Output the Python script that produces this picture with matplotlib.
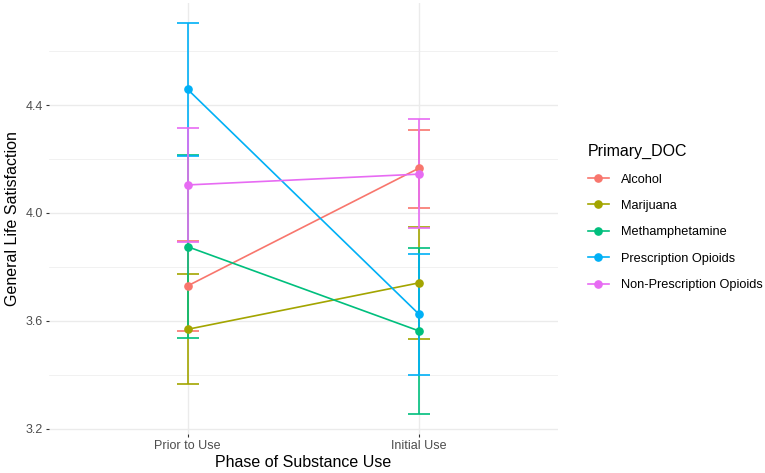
import matplotlib
matplotlib.use("Agg")
import matplotlib.pyplot as plt
from matplotlib.lines import Line2D
import numpy as np

plt.rcParams["font.family"] = ["Liberation Sans", "DejaVu Sans"]

# data
phases = ["Prior to Use", "Initial Use"]
groups = ["Alcohol", "Marijuana", "Methamphetamine",
          "Prescription Opioids", "Non-Prescription Opioids"]
colors = ["#F8766D", "#A3A500", "#00BF7D", "#00B0F6", "#E76BF3"]

means = [
    [3.730, 4.166],
    [3.569, 3.741],
    [3.875, 3.563],
    [4.458, 3.625],
    [4.104, 4.144],
]
lower = [
    [3.563, 4.020],
    [3.366, 3.533],
    [3.536, 3.254],
    [4.212, 3.400],
    [3.894, 3.946],
]
upper = [
    [3.897, 4.307],
    [3.773, 3.947],
    [4.214, 3.870],
    [4.705, 3.848],
    [4.316, 4.348],
]

y_ticks = [3.2, 3.6, 4.0, 4.4]
y_minor = [3.4, 3.8, 4.2, 4.6]

fig = plt.figure(figsize=(7.65, 4.73), dpi=100)
ax = fig.add_axes([0.064, 0.0825, 0.665, 0.911])

x = np.arange(1, len(phases) + 1)
for i, g in enumerate(groups):
    m = np.array(means[i])
    lo = m - np.array(lower[i])
    hi = np.array(upper[i]) - m
    ax.errorbar(x, m, yerr=[lo, hi], fmt="none", ecolor=colors[i],
                elinewidth=1.2, capsize=8, capthick=1.2, zorder=2 + i * 0.01)
    ax.plot(x, m, color=colors[i], lw=1.2, zorder=3 + i * 0.01)
    ax.plot(x, m, "o", color=colors[i], ms=5.2, zorder=4 + i * 0.01)

ax.set_xlim(0.4, 2.6)
ax.set_ylim(3.181, 4.778)
ax.set_xticks(x)
ax.set_xticklabels(phases)
ax.set_yticks(y_ticks)
ax.set_yticklabels([f"{v:.1f}" for v in y_ticks])
ax.set_yticks(y_minor, minor=True)

ax.grid(True, which="major", color="#EBEBEB", lw=1.0)
ax.grid(True, which="minor", axis="y", color="#EBEBEB", lw=0.5)
ax.set_axisbelow(True)
for s in ax.spines.values():
    s.set_visible(False)
ax.tick_params(axis="both", which="major", length=2.5, width=0.8,
               color="#333333", labelcolor="#4D4D4D", labelsize=9, pad=2)
ax.tick_params(axis="y", which="minor", length=0)

ax.set_xlabel("Phase of Substance Use", fontsize=11.5, labelpad=2)
ax.set_ylabel("General Life Satisfaction", fontsize=11.5, labelpad=4)

handles = [Line2D([0], [0], color=c, lw=1.2, marker="o", ms=5.2) for c in colors]
leg = fig.legend(handles, groups, title="Primary_DOC", loc="upper left",
                 bbox_to_anchor=(0.753, 0.72), frameon=False, fontsize=9.2,
                 title_fontsize=11.5, handlelength=1.7, labelspacing=1.13,
                 handletextpad=0.9)
leg._legend_box.align = "left"

fig.savefig("out.png", dpi=100)
